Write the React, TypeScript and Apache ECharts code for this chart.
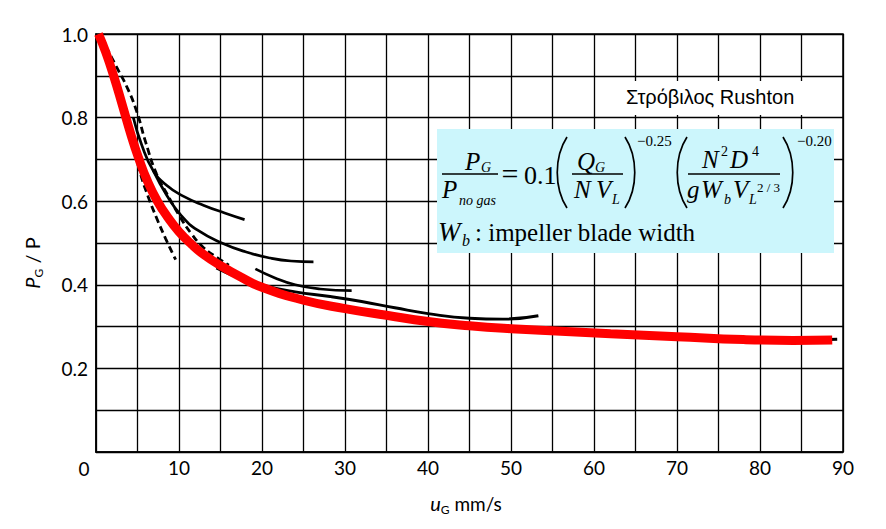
import React, { useEffect, useRef } from 'react';
import * as echarts from 'echarts';

// ---- data ----
const xTickValues = [0, 10, 20, 30, 40, 50, 60, 70, 80, 90];
const yTickValues = [0.2, 0.4, 0.6, 0.8, 1.0];

// thick red correlation curve (u_G mm/s, P_G/P)
const redCurve: [number, number][] = [
  [0.3, 1.0], [1.2, 0.955], [2.2, 0.895], [3.1, 0.835], [4.2, 0.76], [5.1, 0.705],
  [6.2, 0.648], [7.4, 0.6], [8.7, 0.56], [10, 0.527], [11.5, 0.497], [13, 0.472],
  [15, 0.446], [17.5, 0.418], [20, 0.394], [25, 0.363], [30, 0.343], [35, 0.327],
  [40, 0.312], [45, 0.302], [50, 0.295], [56, 0.289], [62, 0.283],
  [70, 0.276], [78, 0.269], [84, 0.267], [88.7, 0.268],
];

// original black experimental curves
const dashedOuter: [number, number][] = [
  [1.2, 0.97], [2.5, 0.92], [3.8, 0.87], [4.9, 0.815], [6, 0.74], [7.3, 0.665],
  [8.9, 0.605], [10.2, 0.56], [11.5, 0.522], [12.9, 0.49], [14.6, 0.465], [16, 0.447],
];
const dashedInner: [number, number][] = [
  [4.5, 0.74], [5.3, 0.67], [6.3, 0.61], [7.3, 0.56], [8.4, 0.51], [9.6, 0.46],
];
const curveC: [number, number][] = [
  [4.5, 0.8], [5.5, 0.735], [6.9, 0.673], [8.5, 0.638], [10.5, 0.612],
  [13, 0.59], [15.5, 0.572], [17.9, 0.556],
];
const curveD: [number, number][] = [
  [6.9, 0.673], [8.5, 0.615], [10.3, 0.565], [12.3, 0.53],
  [15.3, 0.499], [18, 0.479], [21, 0.464], [23.5, 0.457], [26.2, 0.455],
];
const curveE: [number, number][] = [
  [19.2, 0.438], [21.5, 0.417], [24, 0.4], [27, 0.39], [30.8, 0.386],
];
const curveF: [number, number][] = [
  [14.5, 0.44], [17, 0.418], [20, 0.399], [24, 0.383],
  [28.2, 0.372], [32, 0.36], [36, 0.345], [40, 0.331], [45, 0.32], [49, 0.318], [53.3, 0.326],
];
const curveEnd: [number, number][] = [[86.5, 0.268], [89.3, 0.27]];

const SANS = 'Lato, "DejaVu Sans", sans-serif';
const SERIF = '"Liberation Serif", "Times New Roman", serif';
const ARIAL = '"Liberation Sans", Arial, sans-serif';

function tx(text: string, x: number, y: number, size: number, italic = false, family = SERIF, align = 'left') {
  return {
    type: 'text', x, y, z: 30, silent: true,
    style: {
      text, fill: '#000', fontSize: size, fontFamily: family,
      fontStyle: italic ? 'italic' : 'normal',
      textAlign: align, textVerticalAlign: 'middle',
    },
  };
}
function hline(x1: number, x2: number, y: number) {
  return { type: 'line', z: 30, silent: true, shape: { x1, y1: y, x2, y2: y }, style: { stroke: '#000', lineWidth: 1.3 } };
}
function paren(x: number, dir: number) {
  // dir = -1 -> "(" ; dir = +1 -> ")"
  return {
    type: 'bezierCurve', z: 30, silent: true,
    shape: { x1: x, y1: 137, x2: x, y2: 208, cpx1: x + dir * 13, cpy1: 157, cpx2: x + dir * 13, cpy2: 188 },
    style: { stroke: '#000', lineWidth: 1.7 },
  };
}

function lineSeries(data: [number, number][], color: string, width: number, dashed = false, z = 3) {
  return {
    type: 'line', data, smooth: 0.5, showSymbol: false, symbol: 'none', silent: true, z,
    lineStyle: { color, width, type: dashed ? [7, 4] : 'solid', cap: 'butt' },
  };
}

export default function App() {
  const ref = useRef<HTMLDivElement>(null);
  useEffect(() => {
    const chart = echarts.init(ref.current!, null, { renderer: 'svg' });
    const option: any = {
      animation: false,
      backgroundColor: '#fff',
      grid: { left: 96, right: 43, top: 34, bottom: 77, show: true, borderColor: '#000', borderWidth: 1.5 },
      xAxis: {
        type: 'value', min: 0, max: 90, interval: 5,
        axisLine: { show: true, lineStyle: { color: '#000', width: 1.5 } },
        axisTick: { show: false },
        splitLine: { show: true, lineStyle: { color: '#000', width: 1.3 } },
        axisLabel: {
          color: '#000', fontFamily: SANS, fontSize: 19, margin: 6,
          formatter: (v: number) => (v !== 0 && xTickValues.includes(v) ? String(v) : ''),
        },
      },
      yAxis: {
        type: 'value', min: 0, max: 1, interval: 0.1,
        axisLine: { show: true, lineStyle: { color: '#000', width: 1.5 } },
        axisTick: { show: false },
        splitLine: { show: true, lineStyle: { color: '#000', width: 1.3 } },
        axisLabel: {
          color: '#000', fontFamily: SANS, fontSize: 19, margin: 8,
          formatter: (v: number) => (yTickValues.some((t) => Math.abs(t - v) < 1e-6) ? v.toFixed(1) : ''),
        },
      },
      series: [
        lineSeries(dashedOuter, '#000', 2.8, true),
        lineSeries(dashedInner, '#000', 2.8, true),
        lineSeries(curveC, '#000', 2.7),
        lineSeries(curveD, '#000', 2.7),
        lineSeries(curveE, '#000', 2.7),
        lineSeries(curveF, '#000', 2.9),
        lineSeries(curveEnd, '#000', 3),
        lineSeries(redCurve, '#ff0000', 9, false, 5),
      ],
      graphic: [
        // origin label
        tx('0', 84, 468, 19, false, SANS, 'center'),
        // axis names
        {
          type: 'text', x: 32, y: 263, rotation: Math.PI / 2, z: 30, silent: true,
          style: {
            text: '{i|P}{s|G}{n| / P}', textAlign: 'center', textVerticalAlign: 'middle',
            rich: {
              i: { fontSize: 20, fontFamily: SANS, fontStyle: 'italic', lineHeight: 24, fill: '#000' },
              s: { fontSize: 12, fontFamily: SANS, lineHeight: 14, verticalAlign: 'bottom', fill: '#000' },
              n: { fontSize: 20, fontFamily: SANS, lineHeight: 24, fill: '#000' },
            },
          },
        },
        {
          type: 'text', x: 466, y: 503, z: 30, silent: true,
          style: {
            text: '{i|u}{s|G}{n| mm/s}', textAlign: 'center', textVerticalAlign: 'middle',
            rich: {
              i: { fontSize: 20, fontFamily: SANS, fontStyle: 'italic', lineHeight: 24, fill: '#000' },
              s: { fontSize: 12, fontFamily: SANS, lineHeight: 14, verticalAlign: 'bottom', fill: '#000' },
              n: { fontSize: 19, fontFamily: SANS, lineHeight: 24, fill: '#000' },
            },
          },
        },
        // label with white background
        { type: 'rect', z: 20, silent: true, shape: { x: 605, y: 81, width: 236, height: 34 }, style: { fill: '#fff' } },
        tx('Στρόβιλος Rushton', 626, 97, 20, false, ARIAL),
        // formula box
        { type: 'rect', z: 20, silent: true, shape: { x: 437, y: 129, width: 397, height: 124 }, style: { fill: '#ccf6fc' } },
        // P_G / P_no gas
        tx('P', 465, 161, 25, true), tx('G', 481, 167, 14, true),
        hline(442, 498, 174),
        tx('P', 442, 189, 25, true), tx('no gas', 459, 200, 14, true),
        tx('=', 510, 173, 30, false, SERIF, 'center'),
        tx('0.1', 524, 175, 26),
        paren(567, -1),
        tx('Q', 577, 161, 25, true), tx('G', 595, 167, 14, true),
        hline(572, 623, 174),
        tx('N', 574, 189, 25, true), tx('V', 596, 189, 25, true), tx('L', 612, 199, 14, true),
        paren(625, 1),
        tx('\u22120.25', 637, 141, 15),
        paren(687, -1),
        tx('N', 702, 159, 25, true), tx('2', 721, 151, 14), tx('D', 730, 159, 25, true), tx('4', 752, 151, 14),
        hline(688, 780, 174),
        tx('g', 687, 189, 25, true), tx('W', 701, 189, 25, true), tx('b', 724, 199, 14, true),
        tx('V', 733, 189, 25, true), tx('L', 749, 199, 14, true), tx('2 / 3', 757, 187, 13),
        paren(783, 1),
        tx('\u22120.20', 797, 141, 15),
        tx('W', 438, 232, 27, true), tx('b', 462, 240, 16, true),
        tx(': impeller blade width', 475, 232, 25),
      ],
    };
    chart.setOption(option);
    return () => chart.dispose();
  }, []);
  return <div ref={ref} style={{ position: 'fixed', left: 0, top: 0, width: 886, height: 529, background: '#fff' }} />;
}
